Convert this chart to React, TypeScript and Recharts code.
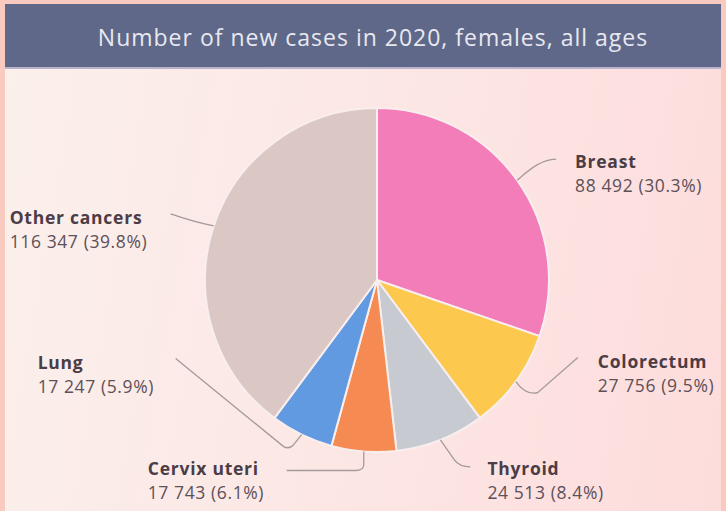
import React from "react";
import { PieChart, Pie, Cell } from "recharts";

const categories = ["Breast", "Colorectum", "Thyroid", "Cervix uteri", "Lung", "Other cancers"];
const cases = [88492, 27756, 24513, 17743, 17247, 116347];
const shares = [30.3, 9.5, 8.4, 6.1, 5.9, 39.8];
const colors = ["#f27db9", "#fcc94e", "#c7cad1", "#f68a53", "#629ae2", "#dbc8c5"];

const data = categories.map((name, i) => ({ name, value: cases[i], share: shares[i] }));

// leader line shape and label offset, relative to the point on the rim
const leaders = [
  { path: "c 12 -10 22 -20 39 -21", dx: 58, dy: -12 },
  { path: "q 10 14 22 11 l 40 -35", dx: 82, dy: -14 },
  { path: "l 14 20 q 5 7 16 7", dx: 47, dy: 35 },
  { path: "l 0 13 q 0 6 -8 6 l -69 0", dx: -216, dy: 24 },
  { path: "l -8 10 q -4 5 -10 2 l -108 -88", dx: -264, dy: -66 },
  { path: "q -20 -4 -43 -12", dx: -204, dy: -2 },
];

const RADIAN = Math.PI / 180;

const fmt = (n: number) => n.toLocaleString("en-US").replace(/,/g, " ");

const renderLabel = (props: any) => {
  const { cx, cy, midAngle, outerRadius, index } = props;
  const x = cx + outerRadius * Math.cos(-midAngle * RADIAN);
  const y = cy + outerRadius * Math.sin(-midAngle * RADIAN);
  const l = leaders[index];
  return (
    <g>
      <path d={`M ${x} ${y} ${l.path}`} fill="none" stroke="#a59a9a" strokeWidth={1.3} />
      <text
        x={x + l.dx}
        y={y + l.dy}
        fontFamily="Open Sans"
        fontSize={17.5}
        fontWeight={700}
        letterSpacing={0.75}
        fill="#4b3c45"
      >
        {categories[index]}
      </text>
      <text
        x={x + l.dx}
        y={y + l.dy + 24}
        fontFamily="Open Sans"
        fontSize={17.5}
        letterSpacing={0.6}
        fill="#5e5059"
      >
        {fmt(cases[index])} ({shares[index].toFixed(1)}%)
      </text>
    </g>
  );
};

const App = () => (
  <div style={{ position: "absolute", left: 0, top: 0, width: 726, height: 511, background: "#f9cac0" }}>
    <div
      style={{
        position: "absolute",
        left: 5,
        top: 4,
        width: 716,
        height: 507,
        background: "linear-gradient(100deg, #fbf0ec 0%, #fce6e4 55%, #fddcdc 100%)",
      }}
    />
    <div
      style={{
        position: "absolute",
        left: 5,
        top: 4,
        width: 696,
        height: 63,
        paddingLeft: 20,
        background: "#5f6888",
        borderBottom: "2px solid #b9b4cc",
        color: "#e8e8f0",
        fontFamily: "Open Sans",
        fontSize: 23,
        letterSpacing: 1,
        lineHeight: "66px",
        textAlign: "center",
      }}
    >
      Number of new cases in 2020, females, all ages
    </div>
    <div style={{ position: "absolute", left: 0, top: 0 }}>
      <PieChart width={726} height={511}>
        <Pie
          data={data}
          dataKey="value"
          cx={372}
          cy={275}
          outerRadius={172}
          startAngle={90}
          endAngle={-270}
          stroke="#f9eeee"
          strokeWidth={2}
          label={renderLabel}
          labelLine={false}
          isAnimationActive={false}
        >
          {data.map((d, i) => (
            <Cell key={d.name} fill={colors[i]} />
          ))}
        </Pie>
      </PieChart>
    </div>
  </div>
);

export default App;
